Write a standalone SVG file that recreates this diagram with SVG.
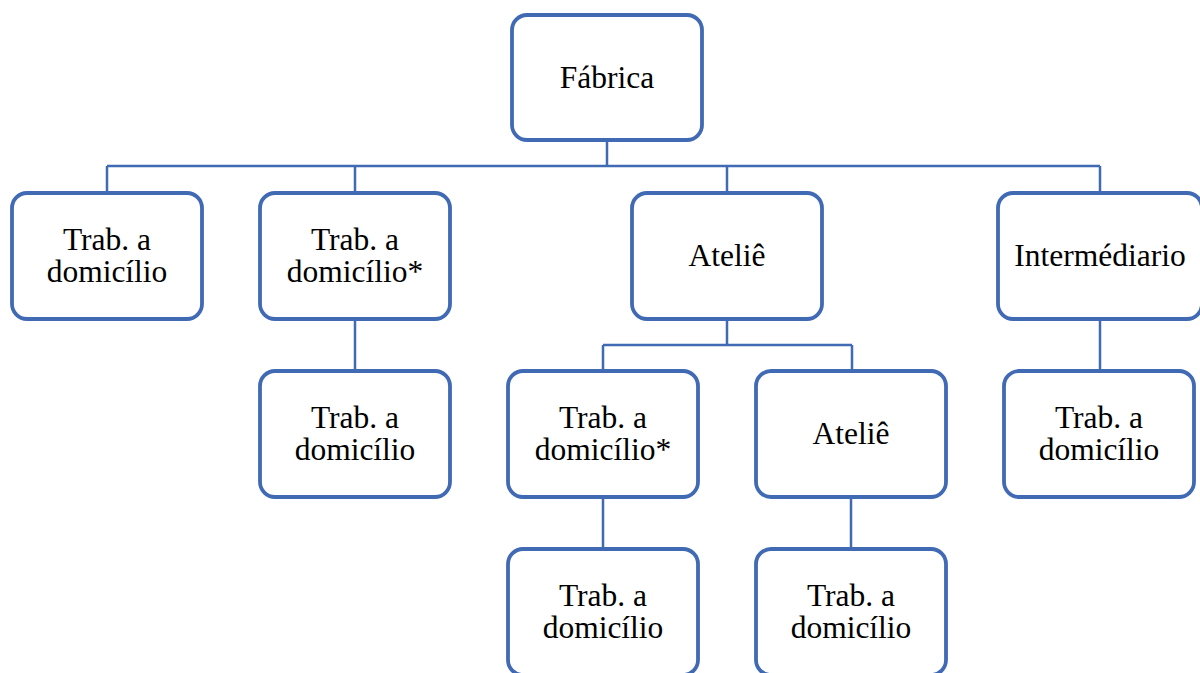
<svg xmlns="http://www.w3.org/2000/svg" width="1200" height="673" viewBox="0 0 1200 673">
<style>
.box{fill:#fff;stroke:#416AB4;stroke-width:3.8}
.con{fill:none;stroke:#416AB4;stroke-width:2.5}
text{font-family:"Liberation Serif","Times New Roman",serif;font-size:31.5px;fill:#000;text-anchor:middle}
</style>
<rect width="1200" height="673" fill="#fff"/>
<g id="connectors">
<path class="con" d="M607 140V166M107 166H1100M107 166V193M355 166V193M727 166V193M1100 166V193"/>
<path class="con" d="M355 319V371"/>
<path class="con" d="M727 319V345M603 345H852M603 345V371M852 345V371"/>
<path class="con" d="M1100 319V371"/>
<path class="con" d="M603 497V549M851 497V549"/>
</g>
<g id="fabrica"><rect class="box" x="512" y="15" width="190" height="125" rx="15"/><text x="607" y="88">Fábrica</text></g>
<g id="trab1"><rect class="box" x="12" y="193" width="190" height="126" rx="15"/><text x="107" y="250">Trab. a</text><text x="107" y="282">domicílio</text></g>
<g id="trab2"><rect class="box" x="260" y="193" width="190" height="126" rx="15"/><text x="355" y="250">Trab. a</text><text x="355" y="282">domicílio*</text></g>
<g id="atelie1"><rect class="box" x="632" y="193" width="190" height="126" rx="15"/><text x="727" y="266">Ateliê</text></g>
<g id="intermediario"><rect class="box" x="998" y="193" width="204" height="126" rx="15"/><text x="1100" y="266">Intermédiario</text></g>
<g id="trab3"><rect class="box" x="260" y="371" width="190" height="126" rx="15"/><text x="355" y="428">Trab. a</text><text x="355" y="460">domicílio</text></g>
<g id="trab4"><rect class="box" x="508" y="371" width="190" height="126" rx="15"/><text x="603" y="428">Trab. a</text><text x="603" y="460">domicílio*</text></g>
<g id="atelie2"><rect class="box" x="756" y="371" width="190" height="126" rx="15"/><text x="851" y="444">Ateliê</text></g>
<g id="trab5"><rect class="box" x="1004" y="371" width="190" height="126" rx="15"/><text x="1099" y="428">Trab. a</text><text x="1099" y="460">domicílio</text></g>
<g id="trab6"><rect class="box" x="508" y="549" width="190" height="126" rx="15"/><text x="603" y="606">Trab. a</text><text x="603" y="638">domicílio</text></g>
<g id="trab7"><rect class="box" x="756" y="549" width="190" height="126" rx="15"/><text x="851" y="606">Trab. a</text><text x="851" y="638">domicílio</text></g>
</svg>
